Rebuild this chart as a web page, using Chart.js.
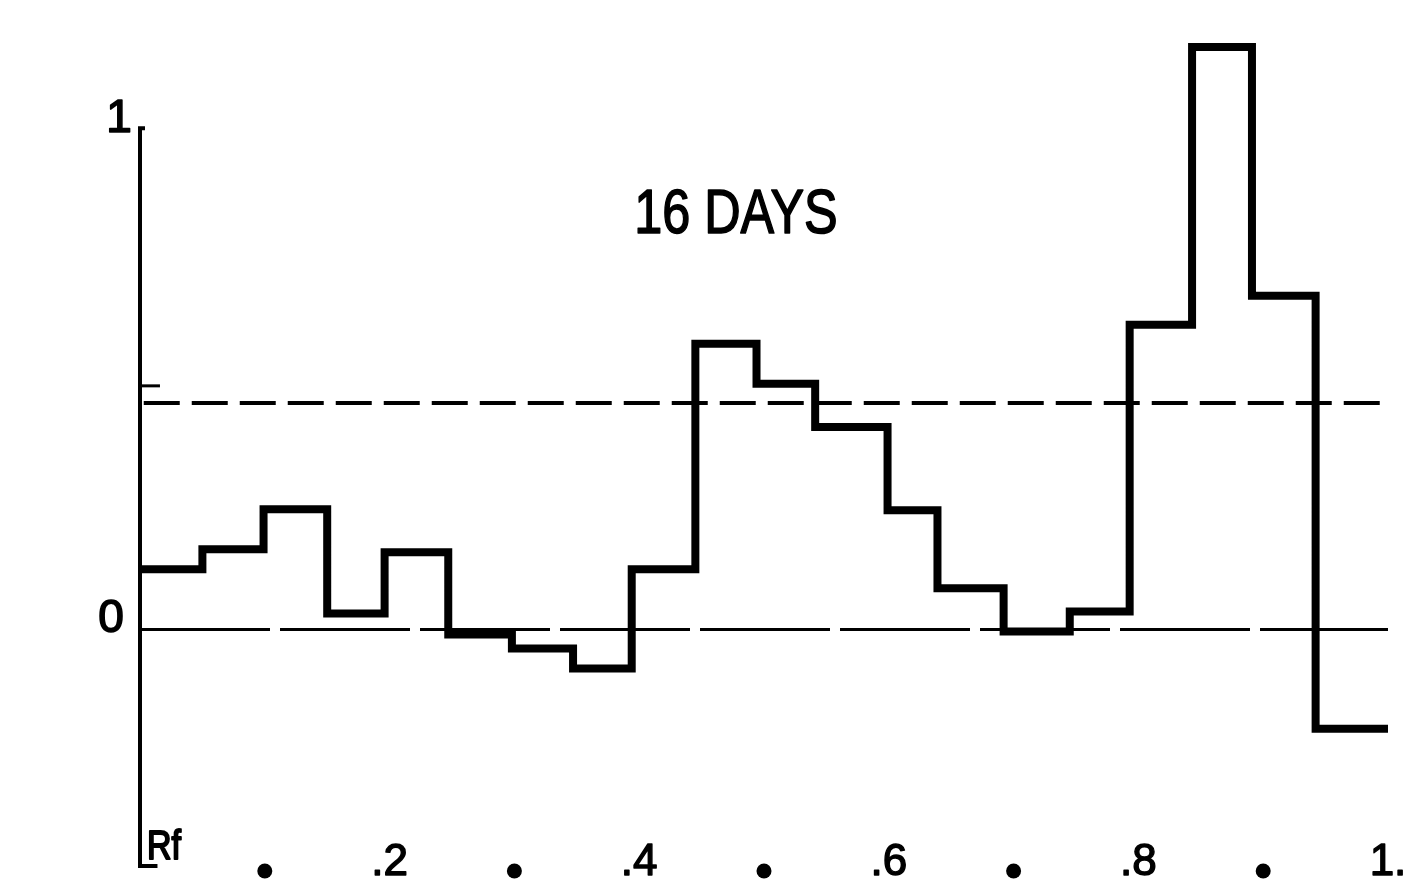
<!DOCTYPE html>
<html>
<head>
<meta charset="utf-8">
<title>16 DAYS</title>
<script src="https://cdn.jsdelivr.net/npm/chart.js@4/dist/chart.umd.min.js"></script>
<style>
  html, body { margin: 0; padding: 0; background: #ffffff; }
  #chart { display: block; }
</style>
</head>
<body>
<canvas id="chart" width="1412" height="889"></canvas>
<script>
// Rf bin edges of the histogram (hand-drawn, roughly 0.05 wide)
const binEdges = [0, 0.050, 0.099, 0.150, 0.196, 0.247, 0.298, 0.347, 0.394, 0.445,
                  0.494, 0.541, 0.599, 0.639, 0.692, 0.745, 0.793, 0.843, 0.891, 0.942, 1.0];
// relative level of each bin
const binValues = [0.120, 0.160, 0.240, 0.032, 0.154, -0.010, -0.038, -0.078, 0.120, 0.570,
                   0.490, 0.404, 0.238, 0.082, -0.004, 0.036, 0.608, 1.162, 0.666, -0.198];
// reference levels
const zeroLevel = 0;
const dashedLevel = 0.452;
const upperMark = 0.486;
// axis labels
const yTickValues = [0, 1];
const yTickLabels = ['0', '1'];
const xTickValues = [0.1, 0.2, 0.3, 0.4, 0.5, 0.6, 0.7, 0.8, 0.9, 1.0];
const xTickLabels = ['•', '.2', '•', '.4', '•', '.6', '•', '.8', '•', '1.'];
const axisLabel = 'Rf';
const titleText = '16 DAYS';
const yRange = [-0.476, 1.2];

const stepPoints = binValues.map((v, i) => ({ x: binEdges[i], y: v }));
stepPoints.push({ x: binEdges[binEdges.length - 1], y: binValues[binValues.length - 1] });

const ink = '#000000';
const FONT = '"Liberation Sans", Arial, sans-serif';

// lettering drawn with a slight outline so it reads as heavy as the pen strokes
function heavyText(ctx, text, x, y, weight) {
  ctx.lineWidth = weight;
  ctx.lineJoin = 'round';
  ctx.strokeText(text, x, y);
  ctx.fillText(text, x, y);
}

const textPlugin = {
  id: 'handLabels',
  afterDraw(chart) {
    const ctx = chart.ctx;
    const xs = chart.scales.x;
    const ys = chart.scales.y;
    ctx.save();
    ctx.fillStyle = ink;
    ctx.strokeStyle = ink;

    // y tick labels
    ctx.font = '46px ' + FONT;
    ctx.textAlign = 'center';
    ctx.textBaseline = 'middle';
    yTickValues.forEach((v, i) => {
      const px = xs.getPixelForValue(0) - (v === 0 ? 29 : 21);
      const py = ys.getPixelForValue(v) - (v === 0 ? 10 : 9);
      heavyText(ctx, yTickLabels[i], px, py, 1.6);
    });

    // x tick labels: dots at odd tenths, numbers at even tenths
    const baseY = ys.getPixelForValue(yRange[0]) + 7;
    xTickValues.forEach((v, i) => {
      const px = xs.getPixelForValue(v);
      const lab = xTickLabels[i];
      if (lab === '•') {
        ctx.beginPath();
        ctx.arc(px, baseY - 4, 7.5, 0, Math.PI * 2);
        ctx.fill();
      } else {
        ctx.font = '44px ' + FONT;
        ctx.textAlign = 'center';
        ctx.textBaseline = 'alphabetic';
        heavyText(ctx, lab, px, baseY, 1.4);
      }
    });

    // axis name
    ctx.save();
    ctx.translate(xs.getPixelForValue(0) + 7, ys.getPixelForValue(yRange[0]) - 9);
    ctx.scale(0.85, 1);
    ctx.font = '40px ' + FONT;
    ctx.textAlign = 'left';
    ctx.textBaseline = 'alphabetic';
    heavyText(ctx, axisLabel, 0, 0, 2);
    ctx.restore();

    // title
    ctx.save();
    ctx.translate(xs.getPixelForValue(0.4775), ys.getPixelForValue(0.79));
    ctx.scale(0.8, 1);
    ctx.font = '63px ' + FONT;
    ctx.textAlign = 'center';
    ctx.textBaseline = 'alphabetic';
    heavyText(ctx, titleText, 0, 0, 1.6);
    ctx.restore();

    ctx.restore();
  }
};

new Chart(document.getElementById('chart'), {
  type: 'line',
  data: {
    datasets: [
      {
        label: 'histogram',
        data: stepPoints,
        stepped: 'before',
        borderColor: ink,
        borderWidth: 8,
        borderJoinStyle: 'miter',
        borderCapStyle: 'butt',
        pointRadius: 0,
        fill: false,
        clip: false
      },
      {
        label: 'zero',
        data: [{ x: 0, y: zeroLevel }, { x: 1, y: zeroLevel }],
        borderColor: ink,
        borderWidth: 3,
        borderDash: [130, 10],
        pointRadius: 0,
        fill: false,
        clip: false
      },
      {
        label: 'dashed',
        data: [{ x: 0.003, y: dashedLevel }, { x: 0.998, y: dashedLevel }],
        borderColor: ink,
        borderWidth: 4,
        borderDash: [36, 12],
        pointRadius: 0,
        fill: false,
        clip: false
      },
      {
        label: 'mark',
        data: [{ x: 0, y: upperMark }, { x: 0.016, y: upperMark }],
        borderColor: ink,
        borderWidth: 3,
        pointRadius: 0,
        fill: false,
        clip: false
      },
      {
        label: 'axis',
        data: [{ x: 0.004, y: 1 }, { x: 0, y: 1 }, { x: 0, y: yRange[0] + 0.004 }, { x: 0.014, y: yRange[0] + 0.004 }],
        borderColor: ink,
        borderWidth: 4,
        borderJoinStyle: 'miter',
        pointRadius: 0,
        fill: false,
        clip: false
      }
    ]
  },
  options: {
    responsive: false,
    animation: false,
    devicePixelRatio: 1,
    layout: { padding: { left: 140, right: 24, top: 28, bottom: 21 } },
    plugins: { legend: { display: false }, tooltip: { enabled: false }, title: { display: false } },
    scales: {
      x: { type: 'linear', min: 0, max: 1, display: false },
      y: { type: 'linear', min: yRange[0], max: yRange[1], display: false }
    }
  },
  plugins: [textPlugin]
});
</script>
</body>
</html>
